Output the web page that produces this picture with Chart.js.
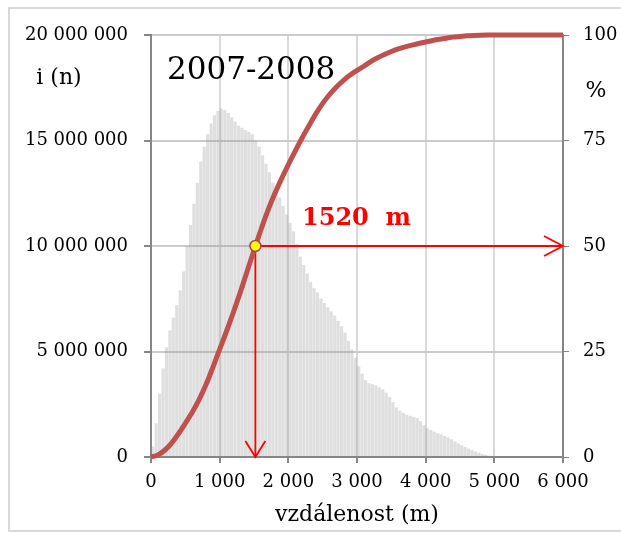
<!DOCTYPE html>
<html lang="cs">
<head>
  <meta charset="UTF-8">
  <title>Vzdálenost 2007-2008</title>
  <script src="https://cdn.jsdelivr.net/npm/chart.js"></script>
  <style>
    body {
      margin: 0;
      overflow: hidden;
      background: #fff;
    }
  </style>
</head>
<body>
  <canvas id="distChart" width="621" height="533"></canvas>

  <script>
    // histogram: counts per 50 m bin, starting at 0 m
    const HIST_BIN = 50;
    const histCounts = [
      500000, 1600000, 3000000, 4200000, 5200000, 6000000, 6600000, 7200000, 7900000, 8800000,
      10000000, 11000000, 12000000, 13000000, 14000000, 14700000, 15300000, 15800000, 16200000, 16400000,
      16500000, 16450000, 16300000, 16100000, 15900000, 15700000, 15600000, 15500000, 15400000, 15300000,
      15000000, 14700000, 14300000, 13900000, 13500000, 13000000, 12600000, 12300000, 11900000, 11500000,
      11100000, 10700000, 10100000, 9500000, 9100000, 8700000, 8300000, 8000000, 7800000, 7500000,
      7300000, 7100000, 6900000, 6700000, 6450000, 6200000, 5900000, 5500000, 5100000, 4700000,
      4300000, 3950000, 3650000, 3500000, 3450000, 3400000, 3300000, 3200000, 3050000, 2850000,
      2600000, 2350000, 2200000, 2100000, 2000000, 1950000, 1900000, 1850000, 1700000, 1500000,
      1370000, 1280000, 1200000, 1130000, 1070000, 1000000, 930000, 840000, 740000, 640000,
      560000, 480000, 400000, 330000, 260000, 200000, 140000, 100000, 60000, 30000
    ];

    // cumulative share (%)
    const cumDist = [
      0, 100, 200, 300, 400, 500, 600, 700, 800, 900,
      1000, 1100, 1200, 1300, 1400, 1500, 1600, 1700, 1800, 1900,
      2000, 2100, 2200, 2300, 2400, 2500, 2600, 2700, 2800, 2900,
      3000, 3100, 3200, 3300, 3400, 3500, 3600, 3700, 3800, 3900,
      4000, 4100, 4200, 4300, 4400, 4500, 4600, 4700, 4800, 4900,
      5000, 5500, 6000
    ];
    const cumPct = [
      0, 0.5, 1.6, 3.3, 5.5, 8.0, 10.6, 13.6, 17.1, 21.2,
      25.5, 29.8, 34.3, 39.0, 44.0, 49.0, 53.8, 58.3, 62.3, 65.9,
      69.3, 72.5, 75.6, 78.5, 81.3, 83.8, 85.9, 87.7, 89.2, 90.5,
      91.6, 92.6, 93.7, 94.6, 95.4, 96.1, 96.7, 97.2, 97.6, 98.0,
      98.35, 98.7, 99.0, 99.25, 99.5, 99.65, 99.8, 99.9, 99.97, 100,
      100, 100, 100
    ];

    // median marker
    const medianDist = 1520;
    const medianPct = 50;
    const arrowEndDist = 6000;

    const xTicks = [0, 1000, 2000, 3000, 4000, 5000, 6000];
    const fontFam = "'DejaVu Serif', serif";

    function spaced(v) {
      return String(v).replace(/\B(?=(\d{3})+(?!\d))/g, ' ');
    }

    const histData = histCounts.map((v, i) => ({ x: i * HIST_BIN + HIST_BIN / 2, y: v }));
    const cumData = cumDist.map((d, i) => ({ x: d, y: cumPct[i] }));

    const extras = {
      id: 'extras',
      beforeDraw(chart) {
        const ctx = chart.ctx;
        ctx.save();
        ctx.fillStyle = '#fff';
        ctx.fillRect(0, 0, chart.width, chart.height);
        ctx.strokeStyle = '#d9d9d9';
        ctx.lineWidth = 2;
        ctx.strokeRect(9, 8, 700, 523);
        ctx.restore();
      },
      afterDatasetsDraw(chart) {
        const ctx = chart.ctx;
        const xs = chart.scales.x, yp = chart.scales.y2;
        const xm = xs.getPixelForValue(medianDist);
        const ym = yp.getPixelForValue(medianPct);
        const xe = xs.getPixelForValue(arrowEndDist);
        const y0 = yp.getPixelForValue(0);
        ctx.save();
        ctx.strokeStyle = '#ff0000';
        ctx.lineWidth = 1.8;
        ctx.beginPath();
        ctx.moveTo(xe - 19, ym - 10);
        ctx.lineTo(xe, ym);
        ctx.lineTo(xe - 19, ym + 10);
        ctx.moveTo(xm - 10, y0 - 16);
        ctx.lineTo(xm, y0);
        ctx.lineTo(xm + 10, y0 - 16);
        ctx.stroke();
        ctx.restore();
      },
      afterDraw(chart) {
        const ctx = chart.ctx;
        ctx.save();
        ctx.fillStyle = '#000';
        ctx.textBaseline = 'middle';
        ctx.textAlign = 'left';
        ctx.font = '31px ' + fontFam;
        ctx.fillText('2007-2008', 167, 71);
        ctx.textAlign = 'center';
        ctx.font = '22px ' + fontFam;
        ctx.fillText('i (n)', 59, 78);
        ctx.fillText('%', 596, 91);
        ctx.textAlign = 'left';
        ctx.fillStyle = '#ff0000';
        ctx.font = 'bold 24px ' + fontFam;
        ctx.fillText('1520  m', 302, 219);
        ctx.restore();
      }
    };

    const ctx = document.getElementById('distChart').getContext('2d');
    new Chart(ctx, {
      type: 'bar',
      data: {
        datasets: [
          {
            type: 'scatter',
            data: [{ x: medianDist, y: medianPct }],
            yAxisID: 'y2',
            pointRadius: 5.5,
            pointBackgroundColor: '#ffff00',
            pointBorderColor: '#b0413e',
            pointBorderWidth: 1.5,
            clip: false,
            order: 0
          },
          {
            type: 'line',
            data: cumData,
            yAxisID: 'y2',
            borderColor: '#c0504d',
            borderWidth: 5,
            pointRadius: 0,
            cubicInterpolationMode: 'monotone',
            clip: false,
            order: 1
          },
          {
            type: 'line',
            data: [{ x: medianDist, y: medianPct }, { x: arrowEndDist, y: medianPct }],
            yAxisID: 'y2',
            borderColor: '#ff0000',
            borderWidth: 1.8,
            pointRadius: 0,
            clip: false,
            order: 2
          },
          {
            type: 'line',
            data: [{ x: medianDist, y: medianPct }, { x: medianDist, y: 0 }],
            yAxisID: 'y2',
            borderColor: '#ff0000',
            borderWidth: 1.8,
            pointRadius: 0,
            clip: false,
            order: 2
          },
          {
            type: 'bar',
            data: histData,
            yAxisID: 'y',
            backgroundColor: 'rgba(150,150,150,0.3)',
            categoryPercentage: 1,
            barPercentage: 0.92,
            order: 5
          }
        ]
      },
      options: {
        responsive: false,
        animation: false,
        layout: { padding: { top: 35, left: 0, right: 0, bottom: 0 } },
        plugins: {
          legend: { display: false },
          tooltip: { enabled: false }
        },
        scales: {
          x: {
            type: 'linear',
            min: 0,
            max: 6000,
            offset: false,
            afterBuildTicks(s) { s.ticks = xTicks.map(v => ({ value: v })); },
            ticks: {
              callback: v => spaced(v),
              color: '#000',
              font: { family: fontFam, size: 18 },
              maxRotation: 0,
              autoSkip: false,
              padding: 9
            },
            grid: { color: '#d9d9d9', lineWidth: 2, tickColor: '#868686', tickLength: 6, offset: false },
            border: { color: '#868686', width: 2 },
            title: {
              display: true,
              text: 'vzdálenost (m)',
              color: '#000',
              font: { family: fontFam, size: 22 },
              padding: { top: 0, bottom: 5 }
            },
            afterFit(s) { s.height = 76; }
          },
          y: {
            position: 'left',
            min: 0,
            max: 20000000,
            ticks: {
              stepSize: 5000000,
              callback: v => spaced(v),
              color: '#000',
              font: { family: fontFam, size: 18 },
              padding: 16
            },
            grid: { color: '#cbcbcb', lineWidth: 2, tickColor: '#868686', tickLength: 7 },
            border: { color: '#868686', width: 2 },
            afterFit(s) { s.width = 151; }
          },
          y2: {
            position: 'right',
            min: 0,
            max: 100,
            ticks: {
              stepSize: 25,
              color: '#000',
              font: { family: fontFam, size: 18 },
              padding: 14
            },
            grid: { drawOnChartArea: false, tickColor: '#868686', tickLength: 6 },
            border: { color: '#868686', width: 2 },
            afterFit(s) { s.width = 58; }
          }
        }
      },
      plugins: [extras]
    });
  </script>
</body>
</html>
